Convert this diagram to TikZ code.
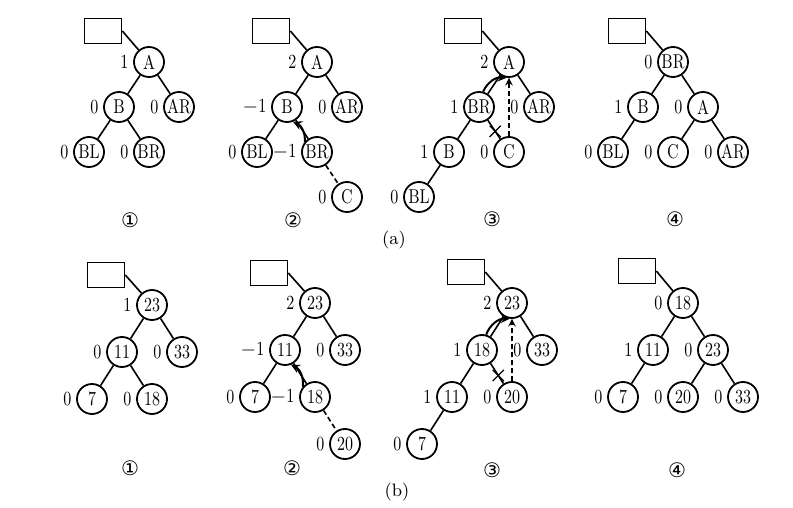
\documentclass[tikz,border=0pt]{standalone}
\usepackage{fontspec}
\newfontfamily\circfont{DejaVu Sans}
\newfontfamily\keyfont[FakeStretch=0.8]{Latin Modern Roman}
\usetikzlibrary{arrows, positioning, shapes}
\newcommand{\nodesize}{15pt}
\newcommand{\boxwidth}{18.5pt}
\newcommand{\boxheight}{12.5pt}
\tikzstyle{avl} = [% tree node
  circle,
  minimum size=\nodesize,
  inner sep=0pt,
  draw=black,
  line width=0.9pt,
  font=\keyfont\fontsize{10}{12}\selectfont
  ]
\tikzstyle{head} = [% empty head box
  rectangle,
  minimum width=\boxwidth,
  minimum height=\boxheight,
  draw=black,
  line width=0.8pt
  ]
\tikzstyle{edge} = [% tree edge
  line width=0.8pt
  ]
\tikzstyle{newedge} = [% edge to the inserted node
  line width=0.8pt,
  dash pattern=on 2.5pt off 1.5pt
  ]
\tikzstyle{turn} = [% rotation arrow
  line width=1pt,
  ->,
  >=stealth
  ]
\tikzstyle{lift} = [% dashed arrow
  line width=0.7pt,
  dash pattern=on 2.5pt off 1.5pt,
  ->,
  >=stealth
  ]
\tikzstyle{cut} = [% crossed out edge
  cross out,
  draw=black,
  line width=0.6pt,
  minimum size=5pt,
  inner sep=0pt
  ]
\tikzstyle{stage} = [% circled stage number
  font=\circfont\fontsize{10}{12}\selectfont
  ]
\tikzstyle{part} = [% part caption
  font=\small
  ]

\begin{document}
\begin{tikzpicture}[x=0.5pt, y=-0.5pt, node distance=22.5pt and 15pt, on grid,
  every label/.style={inner sep=1pt, font=\keyfont\fontsize{10}{12}\selectfont},
  label distance=1.2pt]
\useasboundingbox (0,0) rectangle (793,508);

%%% (a) stage 1
\node[avl, label=left:1] (a1A) at (149,62) {A};
\node[head] (a1H) [above left=15.5pt and 23pt of a1A] {};
\node[avl, label=left:0] (a1B) [below left=of a1A] {B};
\node[avl, label=left:0] (a1AR) [below right=of a1A] {AR};
\node[avl, label=left:0] (a1BL) [below left=of a1B] {BL};
\node[avl, label=left:0] (a1BR) [below right=of a1B] {BR};
\draw[edge] (a1H.east) -- (a1A) (a1A) -- (a1B) (a1A) -- (a1AR)
  (a1B) -- (a1BL) (a1B) -- (a1BR);
\node[stage] (a1cap) at (130,220) {①};

%%% (a) stage 2
\node[avl, label=left:2] (a2A) at (317,62) {A};
\node[head] (a2H) [above left=15.5pt and 23pt of a2A] {};
\node[avl, label=left:$-$1] (a2B) [below left=of a2A] {B};
\node[avl, label=left:0] (a2AR) [below right=of a2A] {AR};
\node[avl, label=left:0] (a2BL) [below left=of a2B] {BL};
\node[avl, label=left:$-$1] (a2BR) [below right=of a2B] {BR};
\node[avl, label=left:0] (a2C) [below right=of a2BR] {C};
\draw[edge] (a2H.east) -- (a2A) (a2A) -- (a2B) (a2A) -- (a2AR)
  (a2B) -- (a2BL) (a2B) -- (a2BR);
\draw[newedge] (a2BR) -- (a2C);
\draw[turn] (a2BR.140) to[bend right=35] (a2B.-68);
\node[stage] (a2cap) at (293,220) {②};

%%% (a) stage 3
\node[avl, label=left:2] (a3A) at (509,62) {A};
\node[head] (a3H) [above left=15.5pt and 23pt of a3A] {};
\node[avl, label=left:1] (a3BR) [below left=of a3A] {BR};
\node[avl, label=left:0] (a3AR) [below right=of a3A] {AR};
\node[avl, label=left:1] (a3B) [below left=of a3BR] {B};
\node[avl, label=left:0] (a3C) [below right=of a3BR] {C};
\node[avl, label=left:0] (a3BL) [below left=of a3B] {BL};
\draw[edge] (a3H.east) -- (a3A) (a3A) -- (a3BR) (a3A) -- (a3AR)
  (a3BR) -- (a3B) (a3B) -- (a3BL);
\draw[edge] (a3BR) -- node[cut, pos=0.6] {} (a3C);
\draw[lift] (a3C) -- (a3A);
\draw[turn] (a3BR.75) to[bend left=35] (a3A.262);
\node[stage] (a3cap) at (492,219) {③};

%%% (a) stage 4
\node[avl, label=left:0] (a4BR) at (673,62) {BR};
\node[head] (a4H) [above left=15.5pt and 23pt of a4BR] {};
\node[avl, label=left:1] (a4B) [below left=of a4BR] {B};
\node[avl, label=left:0] (a4A) [below right=of a4BR] {A};
\node[avl, label=left:0] (a4BL) [below left=of a4B] {BL};
\node[avl, label=left:0] (a4C) [below left=of a4A] {C};
\node[avl, label=left:0] (a4AR) [below right=of a4A] {AR};
\draw[edge] (a4H.east) -- (a4BR) (a4BR) -- (a4B) (a4BR) -- (a4A)
  (a4B) -- (a4BL) (a4A) -- (a4C) (a4A) -- (a4AR);
\node[stage] (a4cap) at (675,219) {④};

\node[part] (alabel) at (394,240) {(a)};

\begin{scope}[node distance=23.5pt and 15pt]
%%% (b) stage 1
\node[avl, label=left:1] (b1n23) at (152,305) {23};
\node[head] (b1H) [above left=15pt and 23pt of b1n23] {};
\node[avl, label=left:0] (b1n11) [below left=of b1n23] {11};
\node[avl, label=left:0] (b1n33) [below right=of b1n23] {33};
\node[avl, label=left:0] (b1n7) [below left=of b1n11] {7};
\node[avl, label=left:0] (b1n18) [below right=of b1n11] {18};
\draw[edge] (b1H.east) -- (b1n23) (b1n23) -- (b1n11) (b1n23) -- (b1n33)
  (b1n11) -- (b1n7) (b1n11) -- (b1n18);
\node[stage] (b1cap) at (130,468) {①};

%%% (b) stage 2
\node[avl, label=left:2] (b2n23) at (315,303) {23};
\node[head] (b2H) [above left=15pt and 23pt of b2n23] {};
\node[avl, label=left:$-$1] (b2n11) [below left=of b2n23] {11};
\node[avl, label=left:0] (b2n33) [below right=of b2n23] {33};
\node[avl, label=left:0] (b2n7) [below left=of b2n11] {7};
\node[avl, label=left:$-$1] (b2n18) [below right=of b2n11] {18};
\node[avl, label=left:0] (b2n20) [below right=of b2n18] {20};
\draw[edge] (b2H.east) -- (b2n23) (b2n23) -- (b2n11) (b2n23) -- (b2n33)
  (b2n11) -- (b2n7) (b2n11) -- (b2n18);
\draw[newedge] (b2n18) -- (b2n20);
\draw[turn] (b2n18.140) to[bend right=35] (b2n11.-68);
\node[stage] (b2cap) at (292,468) {②};

%%% (b) stage 3
\node[avl, label=left:2] (b3n23) at (512,303) {23};
\node[head] (b3H) [above left=15.5pt and 23pt of b3n23] {};
\node[avl, label=left:1] (b3n18) [below left=of b3n23] {18};
\node[avl, label=left:0] (b3n33) [below right=of b3n23] {33};
\node[avl, label=left:1] (b3n11) [below left=of b3n18] {11};
\node[avl, label=left:0] (b3n20) [below right=of b3n18] {20};
\node[avl, label=left:0] (b3n7) [below left=of b3n11] {7};
\draw[edge] (b3H.east) -- (b3n23) (b3n23) -- (b3n18) (b3n23) -- (b3n33)
  (b3n18) -- (b3n11) (b3n11) -- (b3n7);
\draw[edge] (b3n18) -- node[cut, pos=0.6] {} (b3n20);
\draw[lift] (b3n20) -- (b3n23);
\draw[turn] (b3n18.75) to[bend left=35] (b3n23.262);
\node[stage] (b3cap) at (492,470) {③};

%%% (b) stage 4
\node[avl, label=left:0] (b4n18) at (683,303) {18};
\node[head] (b4H) [above left=16pt and 23pt of b4n18] {};
\node[avl, label=left:1] (b4n11) [below left=of b4n18] {11};
\node[avl, label=left:0] (b4n23) [below right=of b4n18] {23};
\node[avl, label=left:0] (b4n7) [below left=of b4n11] {7};
\node[avl, label=left:0] (b4n20) [below left=of b4n23] {20};
\node[avl, label=left:0] (b4n33) [below right=of b4n23] {33};
\draw[edge] (b4H.east) -- (b4n18) (b4n18) -- (b4n11) (b4n18) -- (b4n23)
  (b4n11) -- (b4n7) (b4n23) -- (b4n20) (b4n23) -- (b4n33);
\node[stage] (b4cap) at (677,470) {④};
\end{scope}

\node[part] (blabel) at (397,492) {(b)};

\end{tikzpicture}
\end{document}
